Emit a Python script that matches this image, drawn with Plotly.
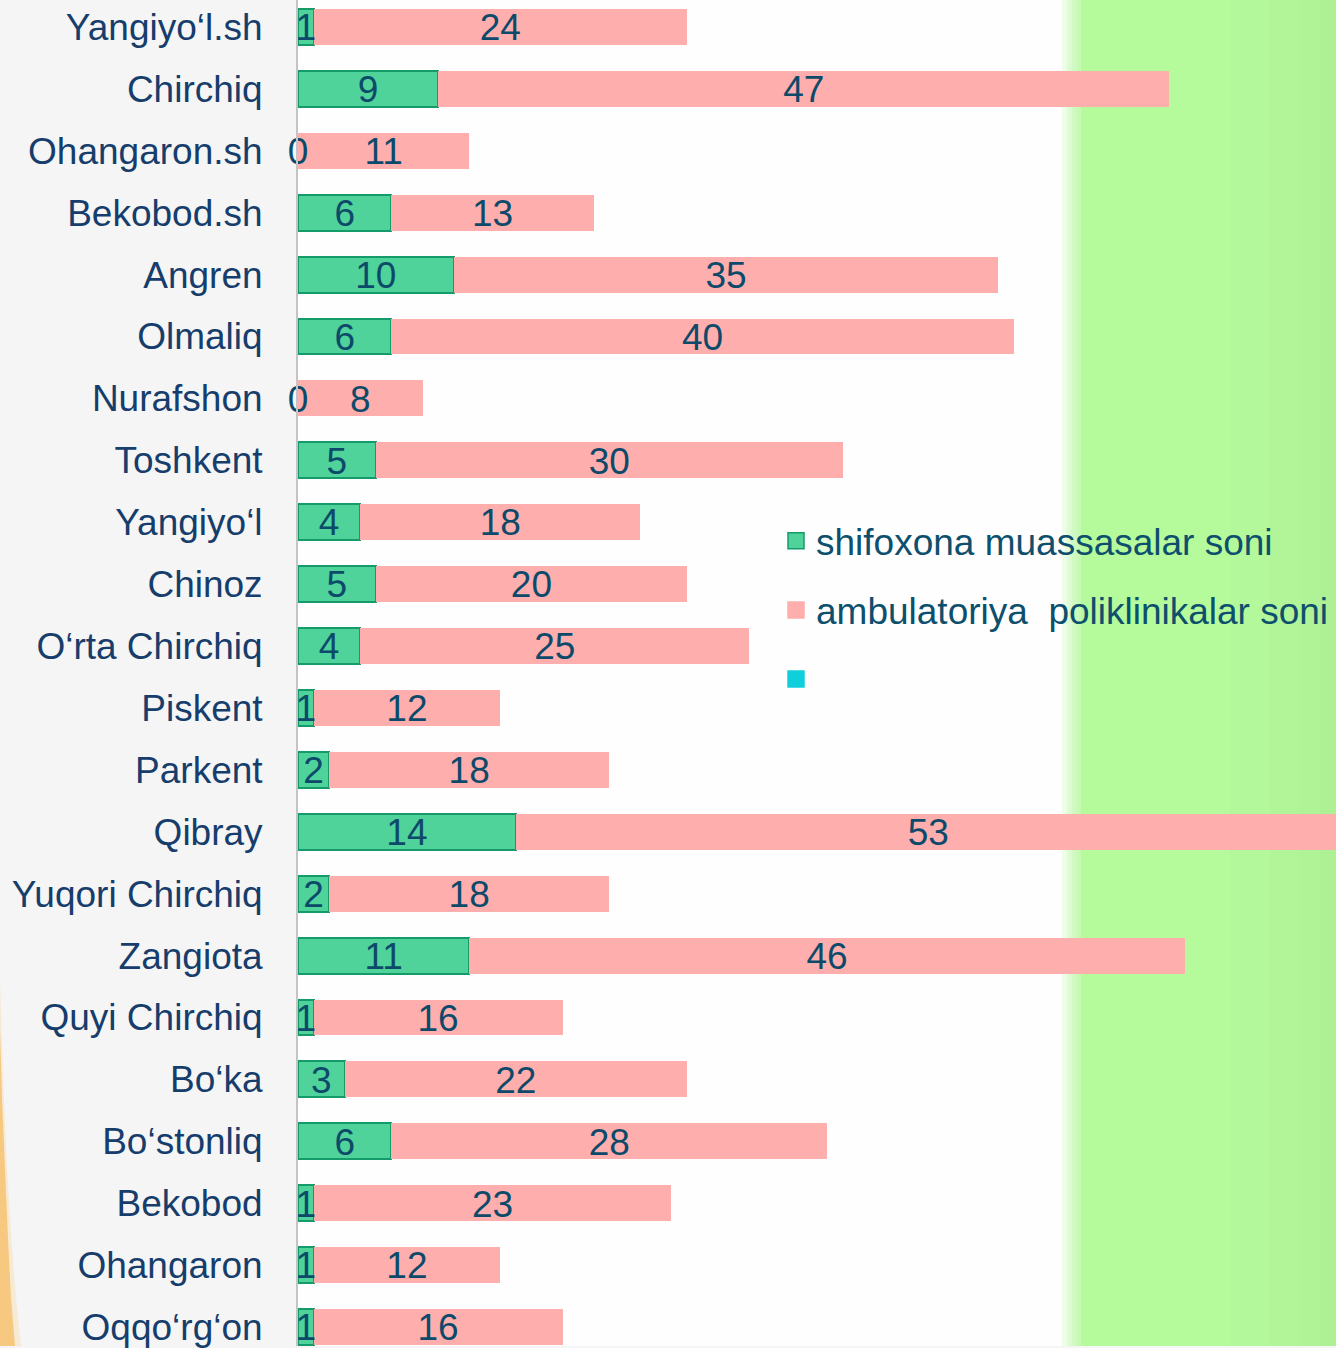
import plotly.graph_objects as go

categories = ["Yangiyo‘l.sh", "Chirchiq", "Ohangaron.sh", "Bekobod.sh", "Angren", "Olmaliq",
              "Nurafshon", "Toshkent", "Yangiyo‘l", "Chinoz", "O‘rta Chirchiq", "Piskent",
              "Parkent", "Qibray", "Yuqori Chirchiq", "Zangiota", "Quyi Chirchiq", "Bo‘ka",
              "Bo‘stonliq", "Bekobod", "Ohangaron", "Oqqo‘rg‘on"]
shifoxona = [1, 9, 0, 6, 10, 6, 0, 5, 4, 5, 4, 1, 2, 14, 2, 11, 1, 3, 6, 1, 1, 1]
ambulatoriya = [24, 47, 11, 13, 35, 40, 8, 30, 18, 20, 25, 12, 18, 53, 18, 46, 16, 22, 28, 23, 12, 16]
series_names = ["shifoxona muassasalar soni", "ambulatoriya  poliklinikalar soni", ""]
series_colors = ["#4fd39b", "#ffaeae", "#10cfdc"]

W, H, L = 1336, 1348, 298
FONT = "Liberation Sans, Arial, sans-serif"
LABEL_C = "#163d6b"
VAL_C = "#0d4a6a"
FS = 37
TEXT_DY = 0.065  # small downward nudge of value labels (category units)

pos = list(range(len(categories)))


def px_x(p):
    return (p - L) / (W - L)


def px_y(p):
    return 1 - p / H


fig = go.Figure()
fig.add_trace(go.Bar(y=pos, x=shifoxona, orientation="h", name=series_names[0],
                     showlegend=False,
                     marker=dict(color=series_colors[0], line=dict(color="#159a6a", width=2))))
fig.add_trace(go.Bar(y=pos, x=ambulatoriya, orientation="h", name=series_names[1],
                     showlegend=False,
                     marker=dict(color=series_colors[1], line=dict(width=0))))

# legend entries (larger square symbols)
legend_lines = ["#159a6a", "#ffaeae", "#10cfdc"]
for i, (nm, col, lc) in enumerate(zip(series_names, series_colors, legend_lines)):
    fig.add_trace(go.Scatter(x=[None], y=[None], mode="markers", name=nm,
                             legendgroup=str(i), showlegend=True, hoverinfo="skip",
                             marker=dict(symbol="square", size=16, color=col,
                                         line=dict(color=lc, width=1.5))))

# value labels centred in each segment
fig.add_trace(go.Scatter(y=[p + TEXT_DY for p in pos], x=[v / 2 for v in shifoxona],
                         mode="text", text=[str(v) for v in shifoxona], showlegend=False,
                         hoverinfo="skip", cliponaxis=False,
                         textfont=dict(family=FONT, size=FS, color=VAL_C)))
fig.add_trace(go.Scatter(y=[p + TEXT_DY for p in pos],
                         x=[s + a / 2 for s, a in zip(shifoxona, ambulatoriya)],
                         mode="text", text=[str(v) for v in ambulatoriya], showlegend=False,
                         hoverinfo="skip", cliponaxis=False,
                         textfont=dict(family=FONT, size=FS, color=VAL_C)))

shapes = []
# green band on the right with soft edge
for x0 in [1062, 1066, 1069, 1072, 1075, 1078]:
    shapes.append(dict(type="rect", xref="paper", yref="paper", x0=px_x(x0), x1=px_x(1081),
                       y0=0, y1=1, fillcolor="#b5fb9c", opacity=0.2, line_width=0,
                       layer="below"))
shapes.append(dict(type="rect", xref="paper", yref="paper", x0=px_x(1081), x1=px_x(1340),
                   y0=0, y1=1, fillcolor="#b5fb9c", line_width=0, layer="below"))
for x0 in [1230, 1270, 1300, 1320]:
    shapes.append(dict(type="rect", xref="paper", yref="paper", x0=px_x(x0), x1=px_x(1340),
                       y0=0, y1=1, fillcolor="#a5e88c", opacity=0.12, line_width=0,
                       layer="below"))


# orange glow at far left bottom (curved)
def pth(pts):
    s = "M " + " L ".join(f"{px_x(x):.5f},{px_y(y):.5f}" for x, y in pts) + " Z"
    return s


glow = [(0, 1030), (2, 1100), (5, 1170), (8, 1240), (11, 1300), (15, 1348), (0, 1348)]
shapes.append(dict(type="path", xref="paper", yref="paper", path=pth(glow),
                   fillcolor="#f7b552", opacity=0.75, line_width=0, layer="below"))
glow2 = [(0, 980), (3, 1080), (7, 1170), (12, 1250), (16, 1300), (21, 1348), (0, 1348)]
shapes.append(dict(type="path", xref="paper", yref="paper", path=pth(glow2),
                   fillcolor="#f9cf8a", opacity=0.3, line_width=0, layer="below"))

fig.update_layout(
    width=W, height=H,
    margin=dict(l=L, r=0, t=0, b=0, pad=0),
    barmode="stack", bargap=0.42,
    paper_bgcolor="#f5f5f5", plot_bgcolor="#fefefe",
    font=dict(family=FONT, size=FS, color=LABEL_C),
    shapes=shapes,
    showlegend=True,
    legend=dict(x=px_x(776), y=px_y(511), xanchor="left", yanchor="top",
                traceorder="grouped", tracegroupgap=18, bgcolor="rgba(0,0,0,0)",
                itemsizing="trace",
                font=dict(family=FONT, size=FS, color="#0d4f6c")),
    xaxis=dict(range=[0, 66.7], visible=False, showgrid=False, zeroline=False),
    yaxis=dict(range=[len(categories) - 1 + 0.306, -0.435], showgrid=False, zeroline=False,
               tickmode="array", tickvals=pos, ticktext=categories,
               ticklabeloverflow="allow",
               showline=True, linecolor="#c4c4c4", linewidth=2, ticks="",
               ticklabelstandoff=26,
               tickfont=dict(family=FONT, size=FS, color=LABEL_C)),
)

fig.write_html("out.html", config={"displayModeBar": False},
               post_script="document.body.style.margin='0';")
